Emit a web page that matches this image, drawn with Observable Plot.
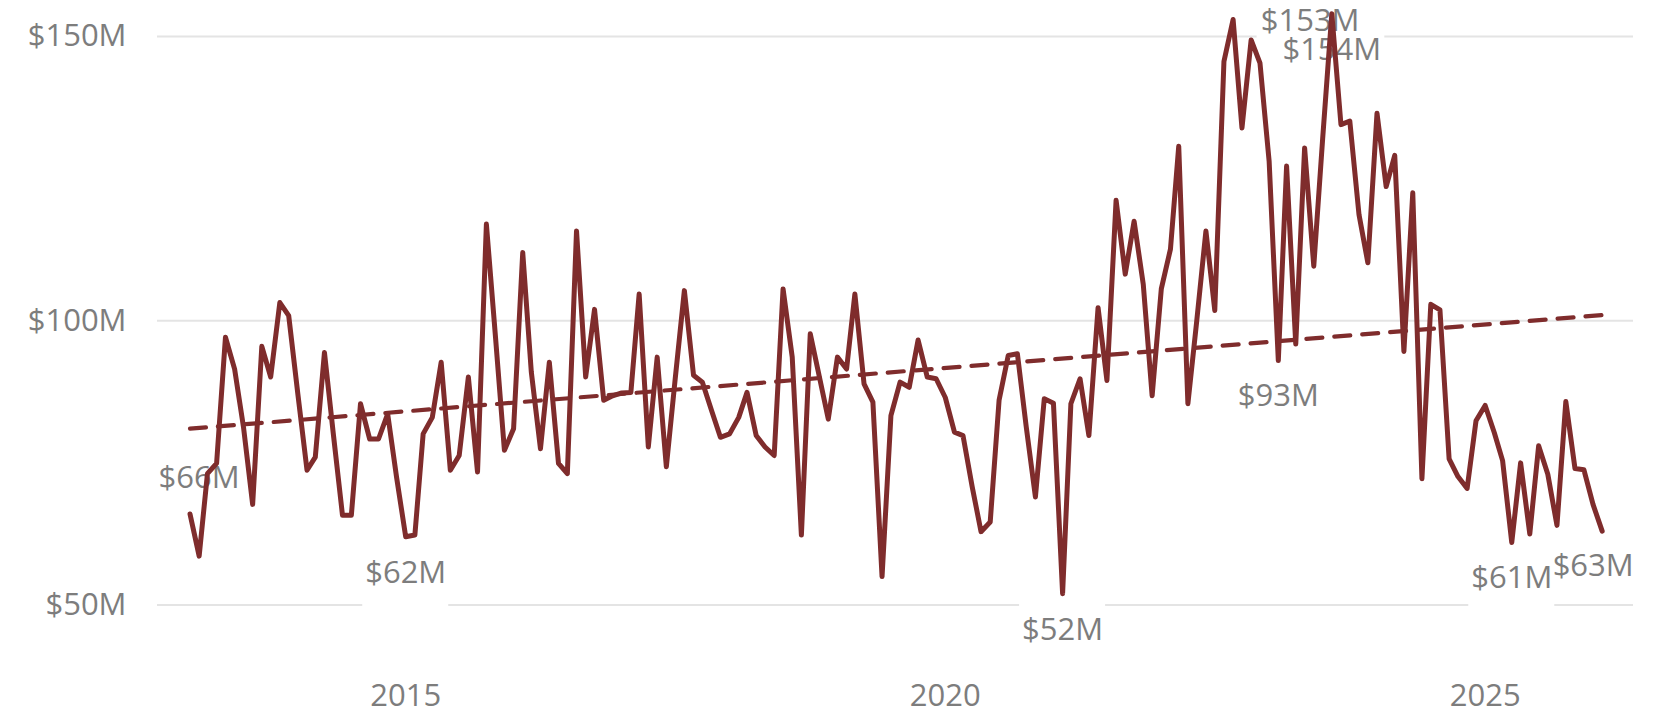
<!DOCTYPE html>
<html>
<head>
<meta charset="utf-8">
<script src="https://cdn.jsdelivr.net/npm/d3@7"></script>
<script src="https://cdn.jsdelivr.net/npm/@observablehq/plot@0.6"></script>
<style>
  html, body { margin: 0; padding: 0; background: #ffffff; }
  #chart { width: 1670px; height: 717px; }
</style>
</head>
<body>
<div id="chart"></div>
<script>
// Monthly sales, January 2013 through February 2026, in millions of dollars
const firstMonth = "2013-01";
const lastMonth = "2026-02";
const sales = [
  66, 58.6, 73.1, 74.9, 97.1, 91.5, 81.3, 67.7, 95.5, 90.1, 103.2, 100.9,
  87.1, 73.7, 76.0, 94.4, 80.1, 65.8, 65.8, 85.4, 79.2, 79.2, 83.6, 72.5,
  62, 62.3, 80.1, 83, 92.7, 73.7, 76.3, 90.1, 73.4, 117.0, 97, 77.2,
  81.0, 112.0, 91, 77.5, 92.7, 74.9, 73.1, 115.8, 90.1, 102.0, 86.0, 86.8,
  87.3, 87.4, 104.7, 77.8, 93.6, 74.3, 89.8, 105.3, 90.4, 89.2, 84.2, 79.5,
  80.1, 83.0, 87.4, 79.8, 77.8, 76.3, 105.6, 93.6, 62.3, 97.7, 90.1, 82.7,
  93.6, 91.5, 104.7, 88.9, 85.7, 55.0, 83.3, 89.2, 88.3, 96.6, 90.1, 89.8,
  86.5, 80.4, 79.8, 70.8, 62.9, 64.6, 86.0, 93.9, 94.2, 81.3, 69.0, 86.3,
  85.5, 52, 85.4, 89.8, 79.8, 102.3, 89.5, 121.2, 108.2, 117.5, 106.4, 86.8,
  105.6, 112.6, 130.7, 85.4, 100, 115.8, 101.8, 145.6, 153, 133.9, 149.4, 145.3,
  128, 93, 127.2, 95.9, 130.4, 109.6, 132, 154, 134.5, 135.1, 118.7, 110.2,
  136.5, 123.6, 129.1, 94.6, 122.5, 72.2, 102.9, 101.9, 75.7, 72.6, 70.5, 82.4,
  85.1, 80.3, 75.4, 61, 75.0, 62.5, 78.0, 73.0, 64.0, 85.8, 74.0, 73.8,
  67.7, 63
];

// Months that carry a value label
const labelledMonths = ["2013-01", "2015-01", "2021-02", "2022-09", "2023-02", "2023-08", "2025-04", "2026-02"];

// Axis ticks
const yTicks = [50, 100, 150];
const xTickYears = [2015, 2020, 2025];

const parseMonth = d3.utcParse("%Y-%m");
const fmtMonth = d3.utcFormat("%Y-%m");
const months = d3.utcMonth.range(parseMonth(firstMonth), d3.utcMonth.offset(parseMonth(lastMonth), 1));
const data = months.map((date, i) => ({date, key: fmtMonth(date), value: sales[i]}));
const money = v => `$${Math.round(v)}M`;

const labelled = data.filter(d => labelledMonths.includes(d.key));
const first = data[0].key;
const last = data[data.length - 1].key;
const peakRight = "2022-09";
const labelsAbove = labelled.filter(d => d.key === first);
const labelsRight = labelled.filter(d => d.key === peakRight);
const labelsBelowLeft = labelled.filter(d => d.key === last);
const labelsBelow = labelled.filter(d => ![first, peakRight, last].includes(d.key));

const grey = "#7d7d7d";
const wine = "#7f2c2c";
const fontSize = 31;

// White plate behind a value label, sized by the label's character count
function plates(rows, dx, dy) {
  return [4, 5].map(n => Plot.rect(rows.filter(d => money(d.value).length === n), {
    x1: "date", x2: "date", y1: "value", y2: "value",
    dx, dy, fill: "white",
    insetLeft: -(n * 10 + 3), insetRight: -(n * 10 + 3),
    insetTop: -35, insetBottom: -35
  }));
}
function texts(rows, dx, dy) {
  return Plot.text(rows, {
    x: "date", y: "value", text: d => money(d.value),
    dx, dy, fill: grey, fontSize
  });
}
const groups = [
  [labelsBelow, 0, 36],
  [labelsBelowLeft, -9, 35],
  [labelsAbove, 9, -36],
  [labelsRight, 77, 2]
];

const chart = Plot.plot({
  width: 1670,
  height: 717,
  marginLeft: 157,
  marginRight: 37,
  marginTop: 36,
  marginBottom: 112.5,
  style: {fontFamily: "'Open Sans', 'Noto Sans', sans-serif", fontSize: `${fontSize}px`, color: grey, background: "white"},
  x: {type: "utc", domain: [d3.utcDay.offset(months[0], -110), d3.utcDay.offset(months[months.length - 1], 106)]},
  y: {domain: [50, 150]},
  marks: [
    Plot.gridY(yTicks, {stroke: "#e4e4e4", strokeOpacity: 1, strokeWidth: 2}),
    Plot.axisY({ticks: yTicks, tickFormat: money, tickSize: 0, tickPadding: 31, fontSize, label: null}),
    Plot.axisX({ticks: xTickYears.map(y => new Date(Date.UTC(y, 0, 1))), tickFormat: d3.utcFormat("%Y"), tickSize: 0, tickPadding: 79, fontSize, label: null}),
    ...groups.flatMap(([rows, dx, dy]) => plates(rows, dx, dy)),
    ...groups.map(([rows, dx, dy]) => texts(rows, dx, dy)),
    Plot.linearRegressionY(data, {x: "date", y: "value", stroke: wine, strokeWidth: 4.2, strokeDasharray: "16,12", ci: 0}),
    Plot.lineY(data, {x: "date", y: "value", stroke: wine, strokeWidth: 5})
  ]
});
document.getElementById("chart").append(chart);
</script>
</body>
</html>
